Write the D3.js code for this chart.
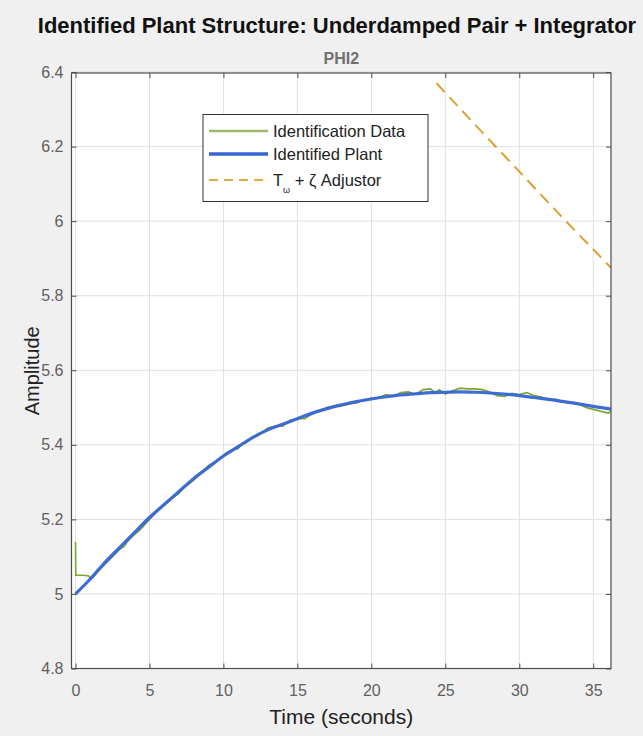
<!DOCTYPE html>
<html>
<head>
<meta charset="utf-8">
<script src="https://cdn.jsdelivr.net/npm/d3@7"></script>
<style>
  body { margin: 0; background: #f0f0f0; }
  text { font-family: "Liberation Sans", Arial, sans-serif; }
</style>
</head>
<body>
<div id="viz"></div>
<script>
// Data.
var xTicks = [0, 5, 10, 15, 20, 25, 30, 35];
var yTicks = [4.8, 5, 5.2, 5.4, 5.6, 5.8, 6, 6.2, 6.4];
var yTickLabels = ["4.8", "5", "5.2", "5.4", "5.6", "5.8", "6", "6.2", "6.4"];

// identified plant response
var plantT = [0, 1, 2, 3, 4, 5, 6, 7, 8, 9, 10, 11, 12, 13, 14, 15, 16, 17, 18, 19, 20,
  21, 22, 23, 24, 25, 26, 27, 28, 29, 30, 31, 32, 33, 34, 35, 36, 36.2];
var plantV = [5.0, 5.04, 5.085, 5.125, 5.165, 5.205, 5.24, 5.275, 5.31, 5.34, 5.37,
  5.395, 5.42, 5.44, 5.455, 5.47, 5.485, 5.497, 5.507, 5.516, 5.523, 5.529, 5.534,
  5.537, 5.54, 5.541, 5.542, 5.541, 5.539, 5.536, 5.532, 5.527, 5.522, 5.516, 5.51,
  5.503, 5.497, 5.496];

// identification data (noisy measurement)
var dataT = [0, 0.02, 0.5, 0.9, 1.0, 1.3, 1.5, 2.0, 2.3, 2.5, 3.0, 3.3, 3.5, 4.0, 4.3,
  4.5, 5.0, 5.3, 5.5, 6.0, 6.5, 7.0, 7.3, 7.5, 8.0, 8.5, 9.0, 9.5, 10.0, 10.5, 11.0,
  11.3, 11.5, 12.0, 12.5, 13.0, 13.5, 14.0, 14.5, 15.0, 15.5, 16.0, 16.5, 17.0, 17.5,
  18.0, 18.5, 19.0, 19.5, 20.0, 20.5, 21.0, 21.5, 22.0, 22.5, 23.0, 23.5, 24.0, 24.3,
  24.6, 25.0, 25.5, 26.0, 26.5, 27.0, 27.5, 28.0, 28.5, 29.0, 29.5, 30.0, 30.5, 31.0,
  31.5, 32.0, 32.5, 33.0, 33.5, 34.0, 34.5, 35.0, 35.5, 36.0, 36.2];
var dataV = [5.14, 5.05, 5.05, 5.048, 5.04, 5.05, 5.06, 5.08, 5.092, 5.1, 5.12, 5.128,
  5.14, 5.16, 5.17, 5.178, 5.2, 5.212, 5.222, 5.24, 5.255, 5.27, 5.285, 5.29, 5.305,
  5.325, 5.345, 5.355, 5.37, 5.385, 5.39, 5.405, 5.405, 5.42, 5.43, 5.445, 5.45, 5.45,
  5.465, 5.47, 5.47, 5.483, 5.49, 5.5, 5.503, 5.505, 5.51, 5.512, 5.52, 5.525, 5.527,
  5.535, 5.53, 5.54, 5.542, 5.535, 5.548, 5.55, 5.54, 5.548, 5.536, 5.545, 5.552, 5.55,
  5.55, 5.548, 5.542, 5.532, 5.53, 5.538, 5.535, 5.54, 5.532, 5.528, 5.52, 5.522, 5.515,
  5.512, 5.51, 5.5, 5.495, 5.49, 5.485, 5.49];

// T_omega + zeta adjustor
var adjT = [24.4, 27, 30, 33, 36.2];
var adjV = [6.37, 6.259, 6.133, 6.006, 5.875];

// Layout.
var W = 643, H = 736;
var pLeft = 71.5, pRight = 611, pTop = 73, pBottom = 668.5;

var svg = d3.select("#viz")
	.append("svg")
	.attr("width", W)
	.attr("height", H);

var x = d3.scaleLinear().domain([-0.27, 36.2]).range([pLeft, pRight]);
var y = d3.scaleLinear().domain([4.8, 6.4]).range([pBottom, pTop - 1]);

// Plot area.
svg.append("rect")
	.attr("x", pLeft).attr("y", pTop)
	.attr("width", pRight - pLeft).attr("height", pBottom - pTop)
	.style("fill", "white");

// Grid.
svg.append("g").selectAll("line").data(xTicks).enter().append("line")
	.attr("x1", d => x(d)).attr("x2", d => x(d))
	.attr("y1", pTop).attr("y2", pBottom)
	.style("stroke", "#e0e0e0").style("stroke-width", 1);
svg.append("g").selectAll("line").data(yTicks).enter().append("line")
	.attr("x1", pLeft).attr("x2", pRight)
	.attr("y1", d => y(d)).attr("y2", d => y(d))
	.style("stroke", "#e0e0e0").style("stroke-width", 1);

// Lines.
svg.append("clipPath").attr("id", "clip")
	.append("rect").attr("x", pLeft).attr("y", pTop)
	.attr("width", pRight - pLeft).attr("height", pBottom - pTop);

var line = d3.line().x(d => x(d[0])).y(d => y(d[1]));
var plot = svg.append("g").attr("clip-path", "url(#clip)");

plot.append("path")
	.datum(d3.zip(dataT, dataV))
	.attr("d", line)
	.style("fill", "none").style("stroke", "#7aa52e").style("stroke-width", 1.6);

plot.append("path")
	.datum(d3.zip(plantT, plantV))
	.attr("d", d3.line().x(d => x(d[0])).y(d => y(d[1])).curve(d3.curveMonotoneX))
	.style("fill", "none").style("stroke", "#3565d4").style("stroke-width", 3.2)
	.style("stroke-opacity", 0.95);

plot.append("path")
	.datum(d3.zip(adjT, adjV))
	.attr("d", line)
	.style("fill", "none").style("stroke", "#dca033").style("stroke-width", 2)
	.style("stroke-dasharray", "12,7");

// Axes.
var axisColor = "#4d4d4d";
function styleAxis(g) {
	g.select(".domain").remove();
	g.selectAll(".tick line").style("stroke", axisColor);
	g.selectAll("text").style("fill", "#606060").style("font-size", "16px")
		.style("font-family", "'Liberation Sans', Arial, sans-serif");
}
svg.append("g").attr("transform", "translate(0," + pBottom + ")")
	.call(d3.axisBottom(x).tickValues(xTicks).tickSize(-5).tickPadding(16))
	.call(styleAxis);
svg.append("g").attr("transform", "translate(0," + pTop + ")")
	.call(d3.axisTop(x).tickValues(xTicks).tickSize(-5).tickFormat(""))
	.call(styleAxis);
svg.append("g").attr("transform", "translate(" + pLeft + ",0)")
	.call(d3.axisLeft(y).tickValues(yTicks).tickSize(-5).tickPadding(8)
		.tickFormat((d, i) => yTickLabels[i]))
	.call(styleAxis);
svg.append("g").attr("transform", "translate(" + pRight + ",0)")
	.call(d3.axisRight(y).tickValues(yTicks).tickSize(-5).tickFormat(""))
	.call(styleAxis);

// Box.
svg.append("rect")
	.attr("x", pLeft).attr("y", pTop)
	.attr("width", pRight - pLeft).attr("height", pBottom - pTop)
	.style("fill", "none").style("stroke", axisColor).style("stroke-width", 1.2);

// Titles.
svg.append("text")
	.attr("x", 337).attr("y", 33)
	.attr("text-anchor", "middle")
	.style("font-size", "22px").style("font-weight", "bold").style("fill", "#111")
	.text("Identified Plant Structure: Underdamped Pair + Integrator");
svg.append("text")
	.attr("x", (pLeft + pRight) / 2).attr("y", 64)
	.attr("text-anchor", "middle")
	.style("font-size", "16px").style("font-weight", "bold").style("fill", "#707070")
	.text("PHI2");
svg.append("text")
	.attr("x", (pLeft + pRight) / 2).attr("y", 724)
	.attr("text-anchor", "middle")
	.style("font-size", "21px").style("fill", "#222")
	.text("Time (seconds)");
svg.append("text")
	.attr("transform", "translate(39," + (pTop + pBottom) / 2 + ") rotate(-90)")
	.attr("text-anchor", "middle")
	.style("font-size", "20px").style("fill", "#222")
	.text("Amplitude");

// Legend.
var lg = svg.append("g");
lg.append("rect")
	.attr("x", 203).attr("y", 114.5).attr("width", 225).attr("height", 87)
	.style("fill", "white").style("stroke", "#333").style("stroke-width", 1);
var legendItems = [
	{ name: "Identification Data", color: "#9db86a", width: 2.5, dash: null },
	{ name: "Identified Plant", color: "#3565d4", width: 3.5, dash: null },
	{ name: "T", color: "#e0ad45", width: 2, dash: "9,6" }
];
var rowY = [131, 154, 180];
legendItems.forEach(function (it, i) {
	lg.append("line")
		.attr("x1", 209).attr("x2", 268)
		.attr("y1", rowY[i]).attr("y2", rowY[i])
		.style("stroke", it.color).style("stroke-width", it.width)
		.style("stroke-dasharray", it.dash);
	var t = lg.append("text")
		.attr("x", 273).attr("y", rowY[i] + 6)
		.style("font-size", "16.5px").style("fill", "#222");
	if (i < 2) {
		t.text(it.name);
	} else {
		t.append("tspan").text("T");
		t.append("tspan").attr("dy", 7).style("font-size", "9px").text("\u03c9");
		t.append("tspan").attr("dy", -7).text(" + \u03b6 Adjustor");
	}
});
</script>
</body>
</html>
